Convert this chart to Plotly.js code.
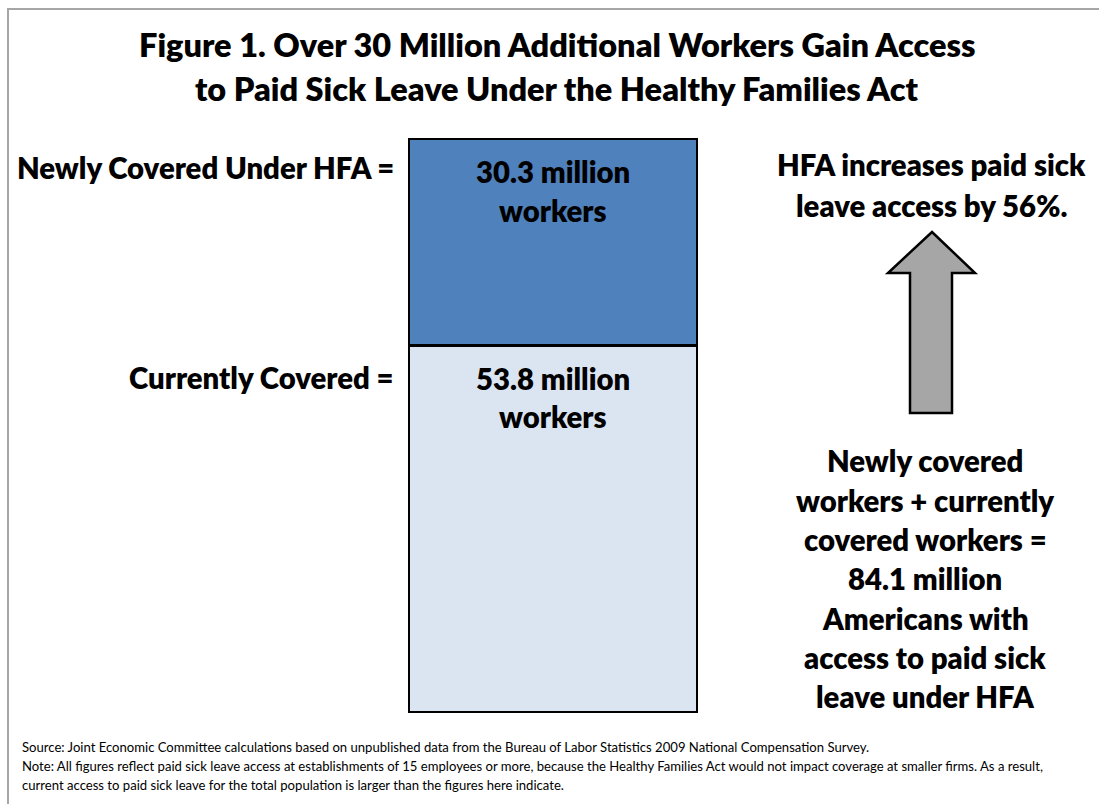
<!DOCTYPE html>
<html>
<head>
<meta charset="utf-8">
<script src="https://cdn.plot.ly/plotly-3.0.1.min.js"></script>
<style>html,body{margin:0;padding:0;background:#fff;}#chart{width:1099px;height:804px;}</style>
</head>
<body>
<div id="chart"></div>
<script>
// ---- data ----
const categories = ['Workers'];
const currentlyCovered = [53.8];
const newlyCovered = [30.3];
const segmentLabels = ['Currently Covered =', 'Newly Covered Under HFA ='];
const titleLines = ['Figure 1. Over 30 Million Additional Workers Gain Access', 'to Paid Sick Leave Under the Healthy Families Act'];
const increasePct = 56;
const sideNoteLines = ['Newly covered', 'workers + currently', 'covered workers =', '84.1 million', 'Americans with', 'access to paid sick', 'leave under HFA'];
const footerLines = [
  'Source: Joint Economic Committee calculations based on unpublished data from the Bureau of Labor Statistics 2009 National Compensation Survey.',
  'Note: All figures reflect paid sick leave access at establishments of 15 employees or more, because the Healthy Families Act would not impact coverage at smaller firms. As a result,',
  'current access to paid sick leave for the total population is larger than the figures here indicate.'
];

// ---- geometry helpers (pixel -> paper) ----
const W = 1099, H = 804;
const M = {l: 300, r: 300, t: 130, b: 84};
const PW = W - M.l - M.r, PH = H - M.t - M.b;
const px = p => (p - M.l) / PW;
const py = p => (H - M.b - p) / PH;

const FONT = 'Lato, "Open Sans", sans-serif';
const total = currentlyCovered[0] + newlyCovered[0];

const traces = [
  {type: 'bar', x: [0], y: currentlyCovered, width: 1, name: 'Currently Covered',
   marker: {color: '#dbe5f1', line: {color: '#000', width: 2.5}}, hoverinfo: 'none'},
  {type: 'bar', x: [0], y: newlyCovered, width: 1, name: 'Newly Covered',
   marker: {color: '#4f81bd', line: {color: '#000', width: 2.5}}, hoverinfo: 'none'}
];

const ann = [];
function txt(text, x, y, size, xanchor, weight) {
  ann.push({text: text, x: px(x), y: py(y), xref: 'paper', yref: 'paper',
    xanchor: xanchor || 'center', yanchor: 'middle', showarrow: false,
    font: {family: FONT, size: size, color: '#000', weight: weight || 800}});
}
const BODY = 29.3;
txt(titleLines[0], 557, 45, 32.5);
txt(titleLines[1], 557, 88, 32.5);
txt(segmentLabels[1], 396, 167, BODY, 'right');
txt(segmentLabels[0], 396, 377, BODY, 'right');
txt(newlyCovered[0] + ' million', 553, 171, BODY);
txt('workers', 553, 211, BODY);
txt(currentlyCovered[0] + ' million', 553, 378, BODY);
txt('workers', 553, 416, BODY);
txt('HFA increases paid sick', 931, 165, BODY);
txt('leave access by ' + increasePct + '%.', 931, 205, BODY);
sideNoteLines.forEach((s, i) => txt(s, 925, 461 + i * 39.3, BODY));
footerLines.forEach((s, i) => ann.push({text: s, x: px(20), y: py(747 + i * 19), xref: 'paper', yref: 'paper',
  xanchor: 'left', yanchor: 'middle', showarrow: false, font: {family: FONT, size: 13.1, color: '#000'}}));

// arrow
const arrowPts = [[932,232],[975,273],[952,273],[952,413],[910,413],[910,273],[888,273]];
const arrowPath = 'M' + arrowPts.map(p => px(p[0]) + ',' + py(p[1])).join(' L') + ' Z';

const shapes = [
  {type: 'rect', xref: 'paper', yref: 'paper', x0: px(8), x1: px(1110), y0: py(9), y1: py(815),
   line: {color: '#a6a6a6', width: 2}, fillcolor: 'rgba(0,0,0,0)', layer: 'below'},
  {type: 'path', xref: 'paper', yref: 'paper', path: arrowPath,
   fillcolor: '#a6a6a6', line: {color: '#000', width: 2.5}}
];

// x range so bar spans pixels 409..697; y range so 0 -> 712, total -> 139
const xs = 288, xc = 553;
const ys = (712 - 139) / total;
const layout = {
  width: W, height: H, margin: M, barmode: 'stack', showlegend: false,
  paper_bgcolor: '#fff', plot_bgcolor: 'rgba(0,0,0,0)',
  xaxis: {visible: false, range: [(M.l - xc) / xs, (W - M.r - xc) / xs], fixedrange: true},
  yaxis: {visible: false, range: [-(H - M.b - 712) / ys, (712 - M.t) / ys], fixedrange: true},
  annotations: ann, shapes: shapes
};
Plotly.newPlot('chart', traces, layout, {displayModeBar: false, staticPlot: true});
</script>
</body>
</html>
